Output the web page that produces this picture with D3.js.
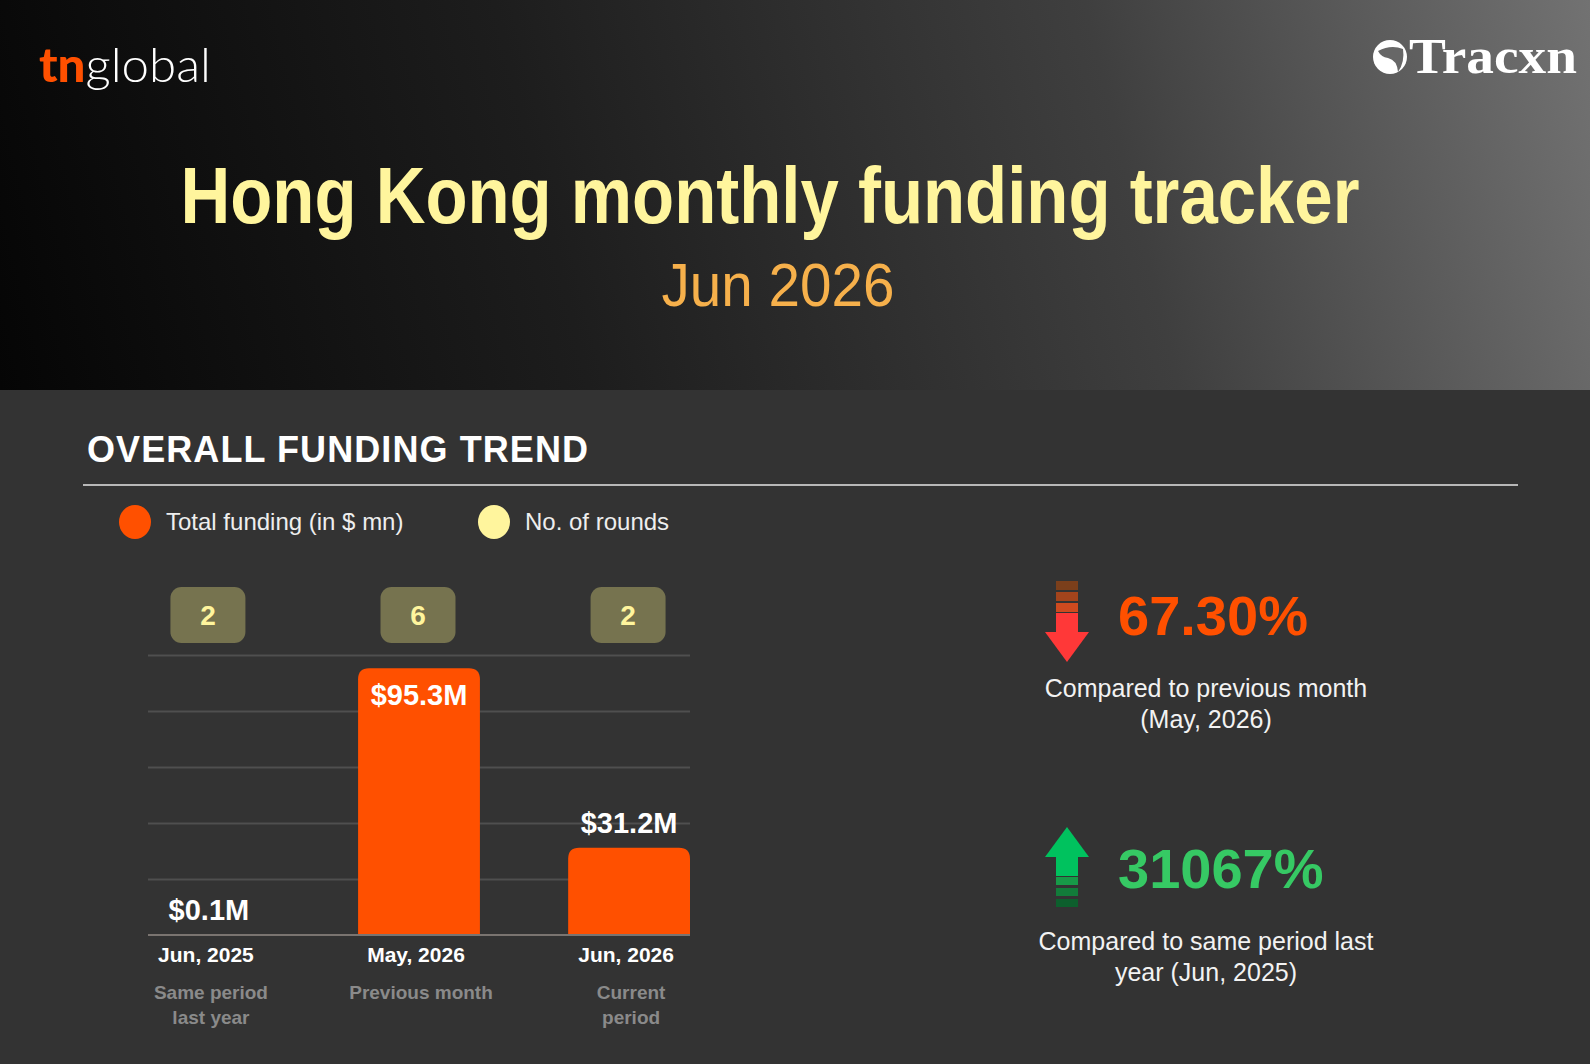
<!DOCTYPE html>
<html>
<head>
<meta charset="utf-8">
<script src="https://cdn.jsdelivr.net/npm/d3@7"></script>
<style>
  html, body { margin: 0; padding: 0; background: #333; }
  svg { display: block; }
  text { font-family: "Liberation Sans", Arial, sans-serif; }
</style>
</head>
<body>
<svg id="chart"></svg>
<script>
const periods = ["Jun, 2025", "May, 2026", "Jun, 2026"];
const periodNotes = [["Same period", "last year"], ["Previous month"], ["Current", "period"]];
const funding = [0.1, 95.3, 31.2];
const fundingLabels = ["$0.1M", "$95.3M", "$31.2M"];
const rounds = [2, 6, 2];
const gridTicks = [0, 20, 40, 60, 80, 100];
const legendLabels = ["Total funding (in $ mn)", "No. of rounds"];
const changeValues = ["67.30%", "31067%"];
const changeNotes = [
  ["Compared to previous month", "(May, 2026)"],
  ["Compared to same period last", "year (Jun, 2025)"]
];

const chartw = 1590;
const charth = 1064;
const orange = "#ff5000";
const paleYellow = "#fff59d";

const svg = d3.select("#chart").attr("width", chartw).attr("height", charth);

// header background
const defs = svg.append("defs");
const grad = defs.append("linearGradient")
  .attr("id", "hdr")
  .attr("gradientUnits", "userSpaceOnUse")
  .attr("x1", 0).attr("y1", 390).attr("x2", 1590).attr("y2", 0);
grad.append("stop").attr("offset", "0").attr("stop-color", "#050505");
grad.append("stop").attr("offset", "0.35").attr("stop-color", "#1d1d1d");
grad.append("stop").attr("offset", "0.7").attr("stop-color", "#3f3f3f");
grad.append("stop").attr("offset", "1").attr("stop-color", "#727272");

svg.append("rect").attr("width", chartw).attr("height", charth).attr("fill", "#333333");
svg.append("rect").attr("width", chartw).attr("height", 390).attr("fill", "url(#hdr)");

// logos
const tn = svg.append("text")
  .attr("x", 39).attr("y", 82)
  .style("font-family", "Lato, 'Open Sans', sans-serif")
  .attr("font-size", 48)
  .attr("textLength", 172)
  .attr("lengthAdjust", "spacingAndGlyphs");
tn.append("tspan").attr("fill", orange).attr("font-weight", 900).text("tn");
tn.append("tspan").attr("fill", "#ffffff").attr("font-weight", 300).text("global");

svg.append("circle").attr("cx", 1390).attr("cy", 57).attr("r", 17).attr("fill", "#ffffff");
svg.append("path")
  .attr("d", "M1378,51 Q1391,44 1403,49 Q1405,62 1398,72 Q1397,60 1388,58 Q1381,57 1378,51 Z")
  .attr("fill", "#676767");
svg.append("text")
  .attr("x", 1409).attr("y", 73)
  .style("font-family", "'Liberation Serif', 'DejaVu Serif', serif")
  .attr("font-weight", 700)
  .attr("font-size", 50)
  .attr("textLength", 168)
  .attr("lengthAdjust", "spacingAndGlyphs")
  .attr("fill", "#ffffff")
  .text("Tracxn");

// titles
svg.append("text")
  .attr("x", 770).attr("y", 223)
  .attr("text-anchor", "middle")
  .attr("font-size", 80)
  .attr("font-weight", 700)
  .attr("textLength", 1179)
  .attr("lengthAdjust", "spacingAndGlyphs")
  .attr("fill", paleYellow)
  .text("Hong Kong monthly funding tracker");

svg.append("text")
  .attr("x", 778).attr("y", 306)
  .attr("text-anchor", "middle")
  .attr("font-size", 62)
  .attr("textLength", 233)
  .attr("lengthAdjust", "spacingAndGlyphs")
  .attr("fill", "#f6b04b")
  .text("Jun 2026");

svg.append("text")
  .attr("x", 87).attr("y", 462)
  .attr("font-size", 36)
  .attr("font-weight", 700)
  .attr("letter-spacing", 2)
  .attr("textLength", 503)
  .attr("fill", "#ffffff")
  .text("OVERALL FUNDING TREND");

svg.append("line")
  .attr("x1", 83).attr("x2", 1518).attr("y1", 485).attr("y2", 485)
  .attr("stroke", "#b8b8b8").attr("stroke-width", 2);

// legend
const legend = svg.append("g");
[[135, orange], [494, paleYellow]].forEach(([lx, c], i) => {
  legend.append("ellipse").attr("cx", lx).attr("cy", 522).attr("rx", 16).attr("ry", 17).attr("fill", c);
  legend.append("text")
    .attr("x", lx + 31).attr("y", 530)
    .attr("font-size", 24)
    .attr("fill", "#eeeeee")
    .text(legendLabels[i]);
});

// bar chart
const x = d3.scaleBand().domain(periods).range([148, 690]).paddingInner(0.42).paddingOuter(0);
const y = d3.scaleLinear().domain([0, 100]).range([935, 655]);
const data = periods.map((p, i) => ({
  period: p, value: funding[i], label: fundingLabels[i], rounds: rounds[i], notes: periodNotes[i]
}));

const grid = svg.append("g")
  .attr("transform", "translate(148,0)")
  .call(d3.axisLeft(y).tickValues(gridTicks.slice(1)).tickSize(-542).tickFormat(""));
grid.select(".domain").remove();
grid.selectAll(".tick line").attr("stroke", "#4f4f4f").attr("stroke-width", 2);

function topRounded(x0, y0, w, h, r) {
  r = Math.min(r, h, w / 2);
  return `M${x0},${y0 + h}V${y0 + r}Q${x0},${y0} ${x0 + r},${y0}H${x0 + w - r}Q${x0 + w},${y0} ${x0 + w},${y0 + r}V${y0 + h}Z`;
}

svg.append("g").selectAll("path").data(data).join("path")
  .attr("d", d => topRounded(x(d.period), y(d.value), x.bandwidth(), y(0) - y(d.value), 11))
  .attr("fill", orange);

svg.append("line")
  .attr("x1", 148).attr("x2", 690).attr("y1", y(0)).attr("y2", y(0))
  .attr("stroke", "#7a7470").attr("stroke-width", 2);

svg.append("g").selectAll("text").data(data).join("text")
  .attr("x", d => x(d.period) + x.bandwidth() / 2)
  .attr("y", d => (y(0) - y(d.value) > 120) ? y(d.value) + 37 : y(d.value) - 15)
  .attr("text-anchor", "middle")
  .attr("font-size", 29)
  .attr("font-weight", 700)
  .attr("fill", "#ffffff")
  .text(d => d.label);

// rounds badges
const badges = svg.append("g").selectAll("g").data(data).join("g")
  .attr("transform", d => `translate(${x(d.period) + x.bandwidth() / 2 - 1},615)`);
badges.append("rect")
  .attr("x", -37.5).attr("y", -28).attr("width", 75).attr("height", 56).attr("rx", 11)
  .attr("fill", "#76734f");
badges.append("text")
  .attr("y", 10)
  .attr("text-anchor", "middle")
  .attr("font-size", 28)
  .attr("font-weight", 700)
  .attr("fill", paleYellow)
  .text(d => d.rounds);

// category labels
const cats = svg.append("g").selectAll("g").data(data).join("g")
  .attr("transform", d => `translate(${x(d.period) + x.bandwidth() / 2},0)`);
cats.append("text")
  .attr("x", -3)
  .attr("y", 962)
  .attr("text-anchor", "middle")
  .attr("font-size", 21)
  .attr("font-weight", 700)
  .attr("fill", "#ffffff")
  .text(d => d.period);
cats.each(function(d) {
  d3.select(this).selectAll("text.note").data(d.notes).join("text")
    .attr("class", "note")
    .attr("x", 2)
    .attr("y", (t, j) => 999 + j * 25)
    .attr("text-anchor", "middle")
    .attr("font-size", 19)
    .attr("font-weight", 700)
    .attr("fill", "#8a8a8a")
    .text(t => t);
});

// change indicators
const down = svg.append("g");
[["#7b3f1b", 581], ["#a4441c", 592], ["#cf4a1f", 603]].forEach(([c, sy]) => {
  down.append("rect").attr("x", 1056).attr("y", sy).attr("width", 22).attr("height", 9).attr("fill", c);
});
down.append("rect").attr("x", 1056).attr("y", 613).attr("width", 22).attr("height", 20).attr("fill", "#ff3838");
down.append("path").attr("d", "M1045,632L1089,632L1067,662Z").attr("fill", "#ff3838");

const up = svg.append("g");
up.append("path").attr("d", "M1045,857L1089,857L1067,827Z").attr("fill", "#00c25e");
up.append("rect").attr("x", 1056).attr("y", 856).attr("width", 22).attr("height", 20).attr("fill", "#00c25e");
[["#179a48", 877], ["#127c3a", 888], ["#0d5f2d", 899]].forEach(([c, sy]) => {
  up.append("rect").attr("x", 1056).attr("y", sy).attr("width", 22).attr("height", 8).attr("fill", c);
});

const changeY = [635, 888];
const changeColors = [orange, "#36c964"];
changeValues.forEach((v, i) => {
  svg.append("text")
    .attr("x", 1118).attr("y", changeY[i])
    .attr("font-size", 56)
    .attr("font-weight", 700)
    .attr("fill", changeColors[i])
    .text(v);
  svg.append("g").selectAll("text").data(changeNotes[i]).join("text")
    .attr("x", 1206)
    .attr("y", (t, j) => changeY[i] + 62 + j * 31)
    .attr("text-anchor", "middle")
    .attr("font-size", 25)
    .attr("fill", "#f2f2f2")
    .text(t => t);
});
</script>
</body>
</html>
